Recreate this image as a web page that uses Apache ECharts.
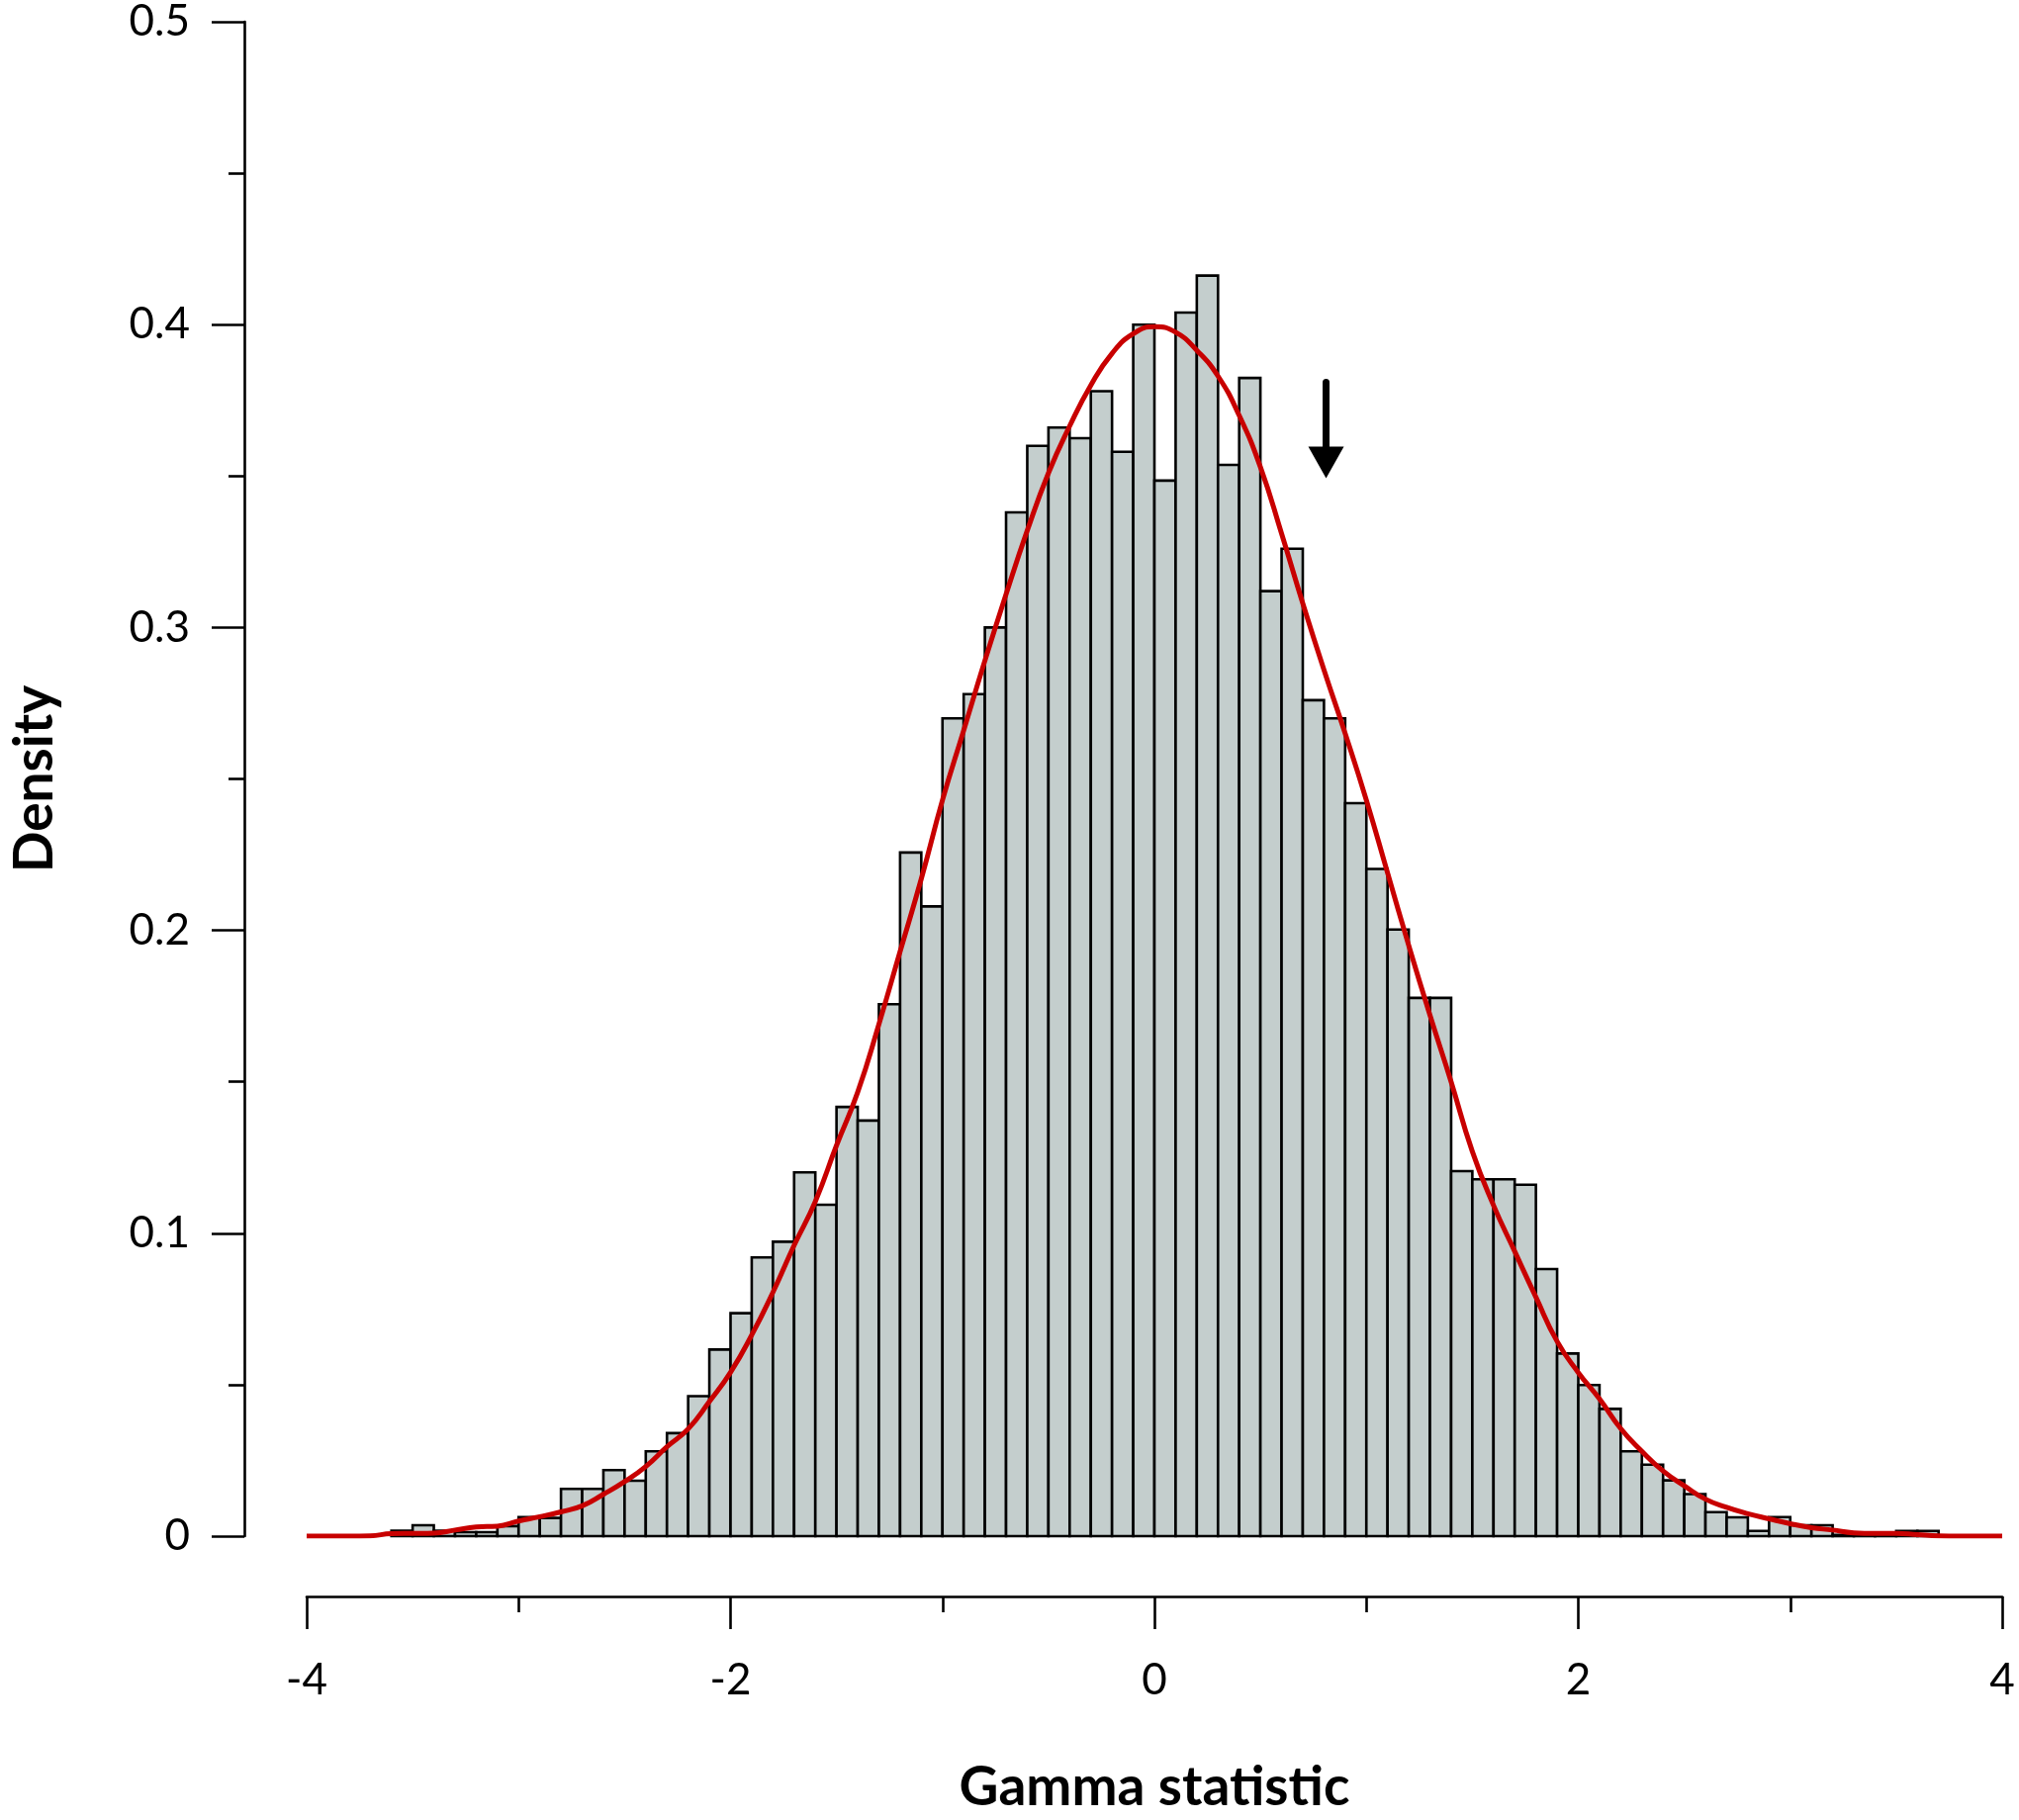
<!DOCTYPE html>
<html>
<head>
<meta charset="utf-8">
<title>Gamma statistic density</title>
<script src="https://cdn.jsdelivr.net/npm/echarts@6/dist/echarts.min.js"></script>
<style>
  html, body { margin: 0; padding: 0; background: #fff; }
  #main { width: 2041px; height: 1840px; }
</style>
</head>
<body>
<div id="main"></div>
<script>
// histogram bins (left edges, width 0.1) and their densities
var binWidth = 0.1;
var binLeft = [
  -3.6, -3.5, -3.4, -3.3, -3.2, -3.1, -3.0, -2.9, -2.8, -2.7,
  -2.6, -2.5, -2.4, -2.3, -2.2, -2.1, -2.0, -1.9, -1.8, -1.7,
  -1.6, -1.5, -1.4, -1.3, -1.2, -1.1, -1.0, -0.9, -0.8, -0.7,
  -0.6, -0.5, -0.4, -0.3, -0.2, -0.1, 0.0, 0.1, 0.2, 0.3,
  0.4, 0.5, 0.6, 0.7, 0.8, 0.9, 1.0, 1.1, 1.2, 1.3,
  1.4, 1.5, 1.6, 1.7, 1.8, 1.9, 2.0, 2.1, 2.2, 2.3,
  2.4, 2.5, 2.6, 2.7, 2.8, 2.9, 3.0, 3.1, 3.2, 3.3,
  3.4, 3.5, 3.6
];
var binDensity = [
  0.0018, 0.0036, 0.0018, 0.0013, 0.0013, 0.0033, 0.0063, 0.0060, 0.0156, 0.0156,
  0.0218, 0.0183, 0.0280, 0.0340, 0.0462, 0.0616, 0.0736, 0.0920, 0.0972, 0.1201,
  0.1094, 0.1417, 0.1372, 0.1756, 0.2257, 0.2079, 0.2700, 0.2780, 0.3000, 0.3380,
  0.3600, 0.3660, 0.3625, 0.3780, 0.3580, 0.4000, 0.3485, 0.4040, 0.4162, 0.3537,
  0.3824, 0.3120, 0.3260, 0.2760, 0.2700, 0.2420, 0.2203, 0.2003, 0.1777, 0.1777,
  0.1205, 0.1178, 0.1178, 0.1160, 0.0882, 0.0603, 0.0499, 0.0420, 0.0280, 0.0236,
  0.0184, 0.0139, 0.0079, 0.0062, 0.0017, 0.0063, 0.0036, 0.0036, 0.0004, 0.0004,
  0.0004, 0.0017, 0.0017
];

// red density curve
var curveX = [
  -4.0, -3.8, -3.7, -3.6, -3.5, -3.4, -3.3, -3.2, -3.1, -3.0,
  -2.9, -2.8, -2.7, -2.6, -2.5, -2.4, -2.3, -2.2, -2.1, -2.0,
  -1.9, -1.8, -1.7, -1.6, -1.5, -1.4, -1.3, -1.2, -1.1, -1.0,
  -0.9, -0.8, -0.7, -0.6, -0.5, -0.4, -0.3, -0.2, -0.1, 0.0,
  0.1, 0.2, 0.3, 0.4, 0.5, 0.6, 0.7, 0.8, 0.9, 1.0,
  1.1, 1.2, 1.3, 1.4, 1.5, 1.6, 1.7, 1.8, 1.9, 2.0,
  2.1, 2.2, 2.3, 2.4, 2.5, 2.6, 2.7, 2.8, 2.9, 3.0,
  3.1, 3.2, 3.3, 3.4, 3.5, 3.6, 3.7, 3.8, 4.0
];
var curveY = [
  0, 0, 0.0001, 0.0008, 0.0009, 0.0010, 0.0020, 0.0030, 0.0033, 0.0050,
  0.0064, 0.0080, 0.0100, 0.0138, 0.0180, 0.0230, 0.0295, 0.0354, 0.0444, 0.0541,
  0.0664, 0.0805, 0.0960, 0.1105, 0.1290, 0.1466, 0.1690, 0.1930, 0.2170, 0.2430,
  0.2660, 0.2890, 0.3110, 0.3320, 0.3510, 0.3665, 0.3800, 0.3905, 0.3970, 0.3993,
  0.3975, 0.3915, 0.3830, 0.3700, 0.3530, 0.3310, 0.3080, 0.2860, 0.2650, 0.2430,
  0.2190, 0.1950, 0.1720, 0.1500, 0.1270, 0.1092, 0.0940, 0.0789, 0.0643, 0.0540,
  0.0453, 0.0355, 0.0280, 0.0215, 0.0166, 0.0122, 0.0095, 0.0074, 0.0057, 0.0041,
  0.0028, 0.0020, 0.0011, 0.0009, 0.0009, 0.0005, 0.0001, 0, 0
];

// observed value marked by the arrow
var observedX = 0.81;
var arrowTop = 0.381;
var arrowHead = 0.3545;

var chart = echarts.init(document.getElementById('main'));

var FONT = 'Lato, "Open Sans", sans-serif';

var barData = binLeft.map(function (b, i) {
  return [b, b + binWidth, binDensity[i]];
});
var curveData = curveX.map(function (x, i) {
  return [x, curveY[i]];
});

var option = {
  backgroundColor: '#fff',
  animation: false,
  grid: { left: 305, right: 17, top: 21, bottom: 274 },
  xAxis: {
    type: 'value',
    min: -4,
    max: 4,
    interval: 2,
    offset: 61,
    name: 'Gamma statistic',
    nameLocation: 'middle',
    nameGap: 166,
    nameTextStyle: { fontFamily: FONT, fontWeight: 'bold', fontSize: 55, color: '#000' },
    axisLine: { onZero: false, lineStyle: { color: '#000', width: 2.6 } },
    axisTick: { length: 33, lineStyle: { color: '#000', width: 2.6 } },
    minorTick: { show: true, splitNumber: 2, length: 16, lineStyle: { color: '#000', width: 2.6 } },
    axisLabel: { fontFamily: FONT, fontSize: 44, color: '#000', margin: 63 },
    splitLine: { show: false }
  },
  yAxis: {
    type: 'value',
    min: 0,
    max: 0.5,
    interval: 0.1,
    offset: 63,
    name: 'Density',
    nameLocation: 'middle',
    nameGap: 184,
    nameTextStyle: { fontFamily: FONT, fontWeight: 'bold', fontSize: 55, color: '#000' },
    axisLine: { show: true, onZero: false, lineStyle: { color: '#000', width: 2.6 } },
    axisTick: { show: true, length: 33, lineStyle: { color: '#000', width: 2.6 } },
    minorTick: { show: true, splitNumber: 2, length: 16, lineStyle: { color: '#000', width: 2.6 } },
    axisLabel: { fontFamily: FONT, fontSize: 44, color: '#000', margin: 55 },
    splitLine: { show: false }
  },
  series: [
    {
      type: 'custom',
      name: 'histogram',
      data: barData,
      encode: { x: [0, 1], y: 2 },
      renderItem: function (params, api) {
        var p0 = api.coord([api.value(0), api.value(2)]);
        var p1 = api.coord([api.value(1), 0]);
        return {
          type: 'rect',
          shape: { x: p0[0], y: p0[1], width: p1[0] - p0[0], height: p1[1] - p0[1] },
          style: { fill: '#c4cecd', stroke: '#000', lineWidth: 2.6 }
        };
      },
      z: 2
    },
    {
      type: 'line',
      name: 'density',
      data: curveData,
      symbol: 'none',
      smooth: 0.5,
      lineStyle: { color: '#c80000', width: 5 },
      z: 3,
      markLine: {
        silent: true,
        symbol: ['none', 'triangle'],
        symbolSize: [36, 32],
        label: { show: false },
        lineStyle: { color: '#000', width: 7, type: 'solid', cap: 'round' },
        itemStyle: { color: '#000' },
        emphasis: { disabled: true },
        data: [
          [
            { coord: [observedX, arrowTop] },
            { coord: [observedX, arrowHead] }
          ]
        ]
      }
    }
  ]
};

chart.setOption(option);
</script>
</body>
</html>
